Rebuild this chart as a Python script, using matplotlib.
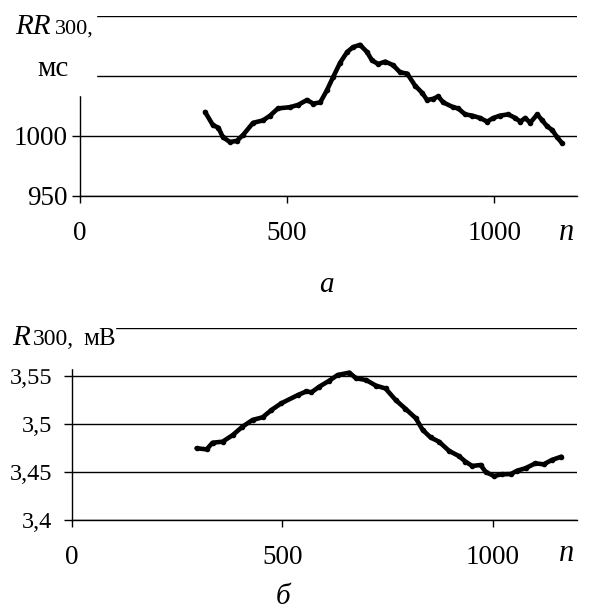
import matplotlib
matplotlib.use("Agg")
import matplotlib.pyplot as plt
from matplotlib.patches import Rectangle

plt.rcParams["font.family"] = ["Liberation Serif", "DejaVu Serif"]

# RR300 (ms) versus n
rr_n = [302, 321, 334, 345, 362, 379, 394, 418, 442, 459, 478, 507, 527, 548, 563,
        580, 596, 611, 628, 645, 659, 676, 693, 705, 720, 737, 756, 773, 790, 809,
        826, 838, 853, 865, 877, 901, 913, 930, 947, 966, 983, 998, 1014, 1034,
        1051, 1063, 1075, 1087, 1104, 1116, 1128, 1140, 1152, 1164]
rr_val = [1020, 1009, 1007, 999, 995, 996, 1001, 1011, 1013, 1017, 1023, 1024, 1026,
          1030, 1027, 1028, 1038, 1049, 1061, 1070, 1074, 1076, 1070, 1063, 1060,
          1062, 1059, 1053, 1052, 1042, 1036, 1030, 1031, 1033, 1028, 1024, 1023,
          1018, 1017, 1015, 1012, 1015, 1017, 1018, 1015, 1012, 1015, 1011, 1018,
          1013, 1008, 1005, 999, 994]

# R300 (mV) versus n
r_n = [296, 320, 334, 358, 382, 405, 429, 453, 474, 497, 536, 557, 569, 588, 611,
       631, 659, 675, 699, 722, 745, 769, 792, 817, 833, 852, 872, 896, 919, 935,
       951, 971, 983, 1003, 1021, 1043, 1058, 1078, 1101, 1121, 1140, 1163]
r_val = [3.4747, 3.4736, 3.4805, 3.4816, 3.4885, 3.4972, 3.5042, 3.507, 3.5146,
         3.5215, 3.530, 3.534, 3.533, 3.539, 3.545, 3.551, 3.5535, 3.5476, 3.5458,
         3.540, 3.537, 3.525, 3.516, 3.506, 3.494, 3.486, 3.4816, 3.472, 3.4667,
         3.4608, 3.4563, 3.4573, 3.450, 3.4458, 3.4476, 3.4479, 3.4514, 3.454,
         3.459, 3.458, 3.4625, 3.466]

x_ticks = [0, 500, 1000]
x_labels = ["0", "500", "1000"]
rr_ticks = [950, 1000, 1050, 1100]
rr_labels = ["950", "1000", "", ""]
r_ticks = [3.4, 3.45, 3.5, 3.55, 3.6]
r_labels = ["3,4", "3,45", "3,5", "3,55", ""]

W, H = 600, 613
fig = plt.figure(figsize=(W / 100, H / 100), dpi=100)


def px(x0, y0, x1, y1):
    # pixel box -> figure fraction rect
    return [x0 / W, 1 - y1 / H, (x1 - x0) / W, (y1 - y0) / H]


def style(ax, xs, ys, yticks, ylabels, ylim, ypad, yfs):
    ax.plot(xs, ys, color="black", lw=3.3, marker="o", ms=3,
            solid_capstyle="round", clip_on=False, zorder=3)
    ax.set_xlim(0, 1200)
    ax.set_ylim(*ylim)
    ax.set_xticks(x_ticks)
    ax.set_xticklabels(x_labels, fontsize=19.5)
    ax.set_yticks(yticks)
    ax.set_yticklabels(ylabels, fontsize=yfs)
    ax.grid(axis="y", color="black", lw=1)
    ax.set_axisbelow(True)
    for s in ["top", "right"]:
        ax.spines[s].set_visible(False)
    for s in ["left", "bottom"]:
        ax.spines[s].set_linewidth(1)
    ax.tick_params(axis="x", direction="out", length=5, width=1, pad=13)
    ax.tick_params(axis="y", direction="out", length=6, width=1, pad=ypad)


ax1 = fig.add_axes(px(80, 16, 577, 196))
style(ax1, rr_n, rr_val, rr_ticks, rr_labels, (950, 1100), 3, 19.5)

ax2 = fig.add_axes(px(72, 328, 577, 520))
style(ax2, r_n, r_val, r_ticks, r_labels, (3.4, 3.6), 8, 17.5)

# white patches behind the axis titles
for box in [(0, 0, 96, 95), (0, 300, 115, 368)]:
    x0, y0, x1, y1 = box
    fig.patches.append(Rectangle((x0 / W, 1 - y1 / H), (x1 - x0) / W, (y1 - y0) / H,
                                 transform=fig.transFigure, color="white", zorder=5))


def ftext(x, y, s, **kw):
    fig.text(x / W, 1 - y / H, s, va="baseline", zorder=6, **kw)


ftext(15, 34, "RR", fontsize=21, style="italic")
ftext(55, 34, "300,", fontsize=16)
ftext(37, 76, "мс", fontsize=21)

ftext(12, 345, "R", fontsize=21, style="italic")
ftext(33, 345, "300,", fontsize=17)
ftext(83, 345, "мВ", fontsize=18)

ftext(567, 240, "n", fontsize=22, style="italic", ha="center")
ftext(567, 561, "n", fontsize=22, style="italic", ha="center")
ftext(326, 292, "а", fontsize=21, style="italic", ha="center")
ftext(283, 604, "б", fontsize=21, style="italic", ha="center")

fig.savefig("out.png", dpi=100, facecolor="white")
